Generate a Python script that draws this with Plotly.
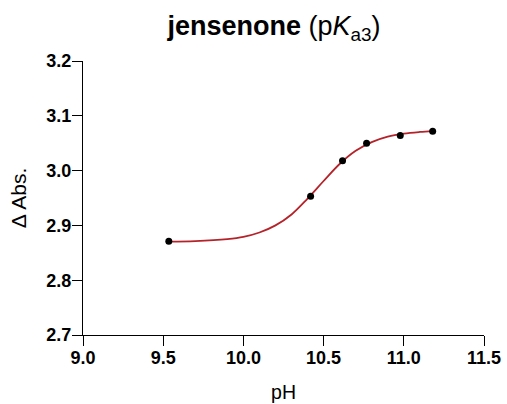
import plotly.graph_objects as go

# Measured data points
ph_points = [9.535, 10.419, 10.618, 10.768, 10.978, 11.18]
abs_points = [2.871, 2.953, 3.018, 3.050, 3.064, 3.072]

# Fitted curve
ph_curve = [9.535, 9.7, 9.9, 10.0, 10.1, 10.2, 10.3, 10.4, 10.5, 10.6,
            10.7, 10.8, 10.9, 11.0, 11.1, 11.18]
abs_curve = [2.8705, 2.8714, 2.875, 2.879, 2.887, 2.900, 2.920, 2.949, 2.981, 3.012,
             3.036, 3.052, 3.062, 3.0675, 3.0705, 3.072]

x_ticks = [9.0, 9.5, 10.0, 10.5, 11.0, 11.5]
y_ticks = [2.7, 2.8, 2.9, 3.0, 3.1, 3.2]

FONT = "Liberation Sans, Arial, Helvetica, sans-serif"

W, H = 507, 404

fig = go.Figure()
fig.add_trace(go.Scatter(x=ph_curve, y=abs_curve, mode="lines",
                         line=dict(color="#b5232a", width=1.8, shape="spline"),
                         hoverinfo="skip", showlegend=False))
fig.add_trace(go.Scatter(x=ph_points, y=abs_points, mode="markers",
                         marker=dict(color="black", size=7),
                         showlegend=False))

fig.update_layout(
    width=W, height=H,
    margin=dict(l=83, r=23, t=61, b=69),
    paper_bgcolor="white", plot_bgcolor="white",
    font=dict(family=FONT, color="black"),
    title=dict(text="<b>jensenone</b> (p<i>K</i><sub>a3</sub>)",
               x=274 / W, xanchor="center", xref="container",
               y=1 - 26 / H, yanchor="middle", yref="container",
               font=dict(size=27, family=FONT, color="black")),
    xaxis=dict(range=[9.0, 11.5], tickvals=x_ticks, tickformat=".1f",
               showline=True, linecolor="black", linewidth=1.3,
               ticks="outside", ticklen=10, tickwidth=1.3, tickcolor="black",
               showgrid=False, zeroline=False, automargin=False,
               ticklabelstandoff=-4, ticklabeloverflow="allow",
               tickfont=dict(size=18, family=FONT, color="black", weight="bold"),
               title=dict(text="pH", font=dict(size=19.5, family=FONT, color="black"),
                          standoff=18)),
    yaxis=dict(range=[2.7, 3.2], tickvals=y_ticks, tickformat=".1f",
               showline=True, linecolor="black", linewidth=1.3,
               ticks="outside", ticklen=10, tickwidth=1.3, tickcolor="black",
               showgrid=False, zeroline=False, automargin=False,
               ticklabelstandoff=-3, ticklabeloverflow="allow",
               tickfont=dict(size=18, family=FONT, color="black", weight="bold"),
               title=dict(text="Δ Abs.", font=dict(size=21, family=FONT, color="black"),
                          standoff=13)),
)

# remove the browser's default 8px page margin so the figure fills the window
fig.write_html("out.html",
               config={"displayModeBar": False},
               post_script="document.body.style.margin='0';document.body.style.overflow='hidden';")
